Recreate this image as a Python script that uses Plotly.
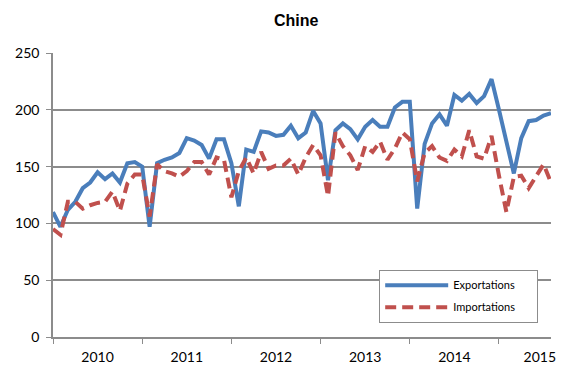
import plotly.graph_objects as go

years = ["2010", "2011", "2012", "2013", "2014", "2015"]
year_label_pos = [6, 18, 30, 42, 54, 65.5]

exportations = [
    110, 97, 112, 119, 131, 136, 145, 139, 144, 136, 153, 154,
    150, 97, 153, 156, 158, 162, 175, 173, 169, 157, 174, 174,
    153, 115, 165, 163, 181, 180, 177, 178, 186, 175, 180, 199,
    188, 138, 182, 188, 183, 174, 185, 191, 185, 185, 202, 207,
    207, 113, 170, 188, 196, 186, 213, 208, 214, 206, 212, 227,
    200, 171, 144, 175, 190, 191, 195, 197,
]
importations = [
    95, 90, 119, 119, 113, 116, 118, 119, 128, 111, 135, 143,
    143, 106, 152, 146, 144, 141, 146, 154, 154, 143, 158, 156,
    123, 146, 158, 144, 163, 148, 151, 151, 157, 143, 158, 169,
    160, 124, 180, 168, 160, 147, 168, 163, 172, 156, 166, 180,
    174, 137, 162, 168, 158, 155, 165, 159, 182, 159, 157, 177,
    142, 110, 141, 142, 131, 142, 152, 136,
]
months = list(range(len(exportations)))

pad = "&nbsp;" * 6

fig = go.Figure()
fig.add_trace(go.Scatter(
    x=months, y=exportations, mode="lines", name="Exportations" + pad,
    line=dict(color="#4A7EBB", width=4), legendgroup="a",
))
fig.add_trace(go.Scatter(
    x=months, y=importations, mode="lines", name="Importations" + pad,
    line=dict(color="#C0504D", width=4, dash="11px,6px"), legendgroup="b",
))

axis_grey = "#8c8c8c"
fig.update_layout(
    width=562, height=367,
    margin=dict(l=53, r=11, t=53, b=30, autoexpand=False),
    paper_bgcolor="white", plot_bgcolor="white",
    title=dict(text="<b>Chine</b>", x=0.527, xanchor="center", y=0.945, yanchor="middle",
               font=dict(family="Liberation Sans, Arial", size=16, color="black")),
    font=dict(family="Lato, Carlito, Calibri", size=14, color="black"),
    showlegend=True,
    legend=dict(
        x=0.655, y=0.237, xanchor="left", yanchor="top",
        bgcolor="white", bordercolor="#8c8c8c", borderwidth=1,
        font=dict(family="Lato, Calibri", size=11, color="black"),
        tracegroupgap=3, itemwidth=63,
    ),
    xaxis=dict(
        range=[0, len(exportations) - 1], showgrid=False, zeroline=False,
        showline=True, linecolor=axis_grey, linewidth=1.5, automargin=False,
        tickmode="array", tickvals=year_label_pos, ticktext=years, ticks="",
        ticklabelstandoff=6,
        minor=dict(tick0=0, dtick=12, ticks="outside", ticklen=5, tickcolor=axis_grey, showgrid=False),
    ),
    yaxis=dict(
        range=[0, 250], dtick=50, showgrid=True, gridcolor=axis_grey, gridwidth=1.5,
        zeroline=False, showline=True, linecolor=axis_grey, linewidth=1.5, automargin=False,
        ticks="outside", ticklen=5, tickcolor=axis_grey, ticklabelstandoff=4,
    ),
)
fig.write_html("out.html")
